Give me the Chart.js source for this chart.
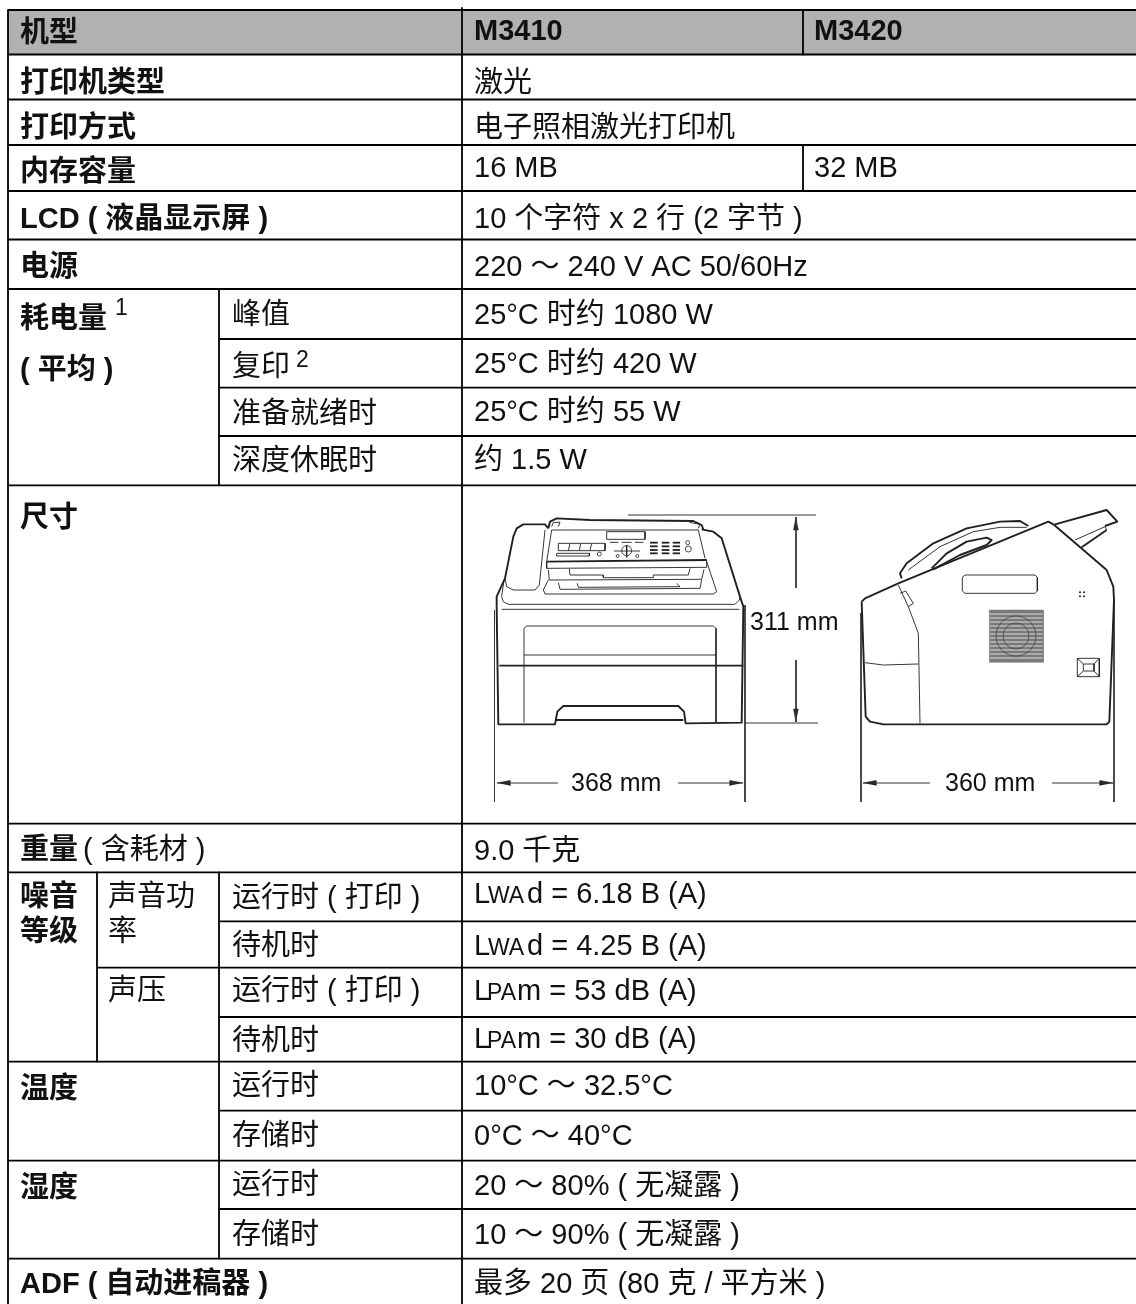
<!DOCTYPE html>
<html>
<head>
<meta charset="utf-8">
<style>
html, body { margin: 0; padding: 0; background: #fff; }
canvas { display: block; }
</style>
<script src="https://cdn.jsdelivr.net/npm/chart.js@4"></script>
</head>
<body>
<canvas id="specTable" width="1136" height="1304"></canvas>
<script>
// table text
var headerCells = ['机型', 'M3410', 'M3420'];
var featureLabels = ['打印机类型', '打印方式', '内存容量', 'LCD ( 液晶显示屏 )', '电源', '耗电量', '( 平均 )', '尺寸', '重量', '噪音', '等级', '温度', '湿度', 'ADF ( 自动进稿器 )'];
var subLabels = ['峰值', '复印', '准备就绪时', '深度休眠时', '( 含耗材 )', '声音功', '率', '声压', '运行时 ( 打印 )', '待机时', '运行时 ( 打印 )', '待机时', '运行时', '存储时', '运行时', '存储时'];
var specValues = ['激光', '电子照相激光打印机', '16 MB', '32 MB', '10 个字符 x 2 行 (2 字节 )', '220 ～ 240 V AC 50/60Hz', '25°C 时约 1080 W', '25°C 时约 420 W', '25°C 时约 55 W', '约 1.5 W', '9.0 千克', 'd = 6.18 B (A)', 'd = 4.25 B (A)', 'm = 53 dB (A)', 'm = 30 dB (A)', '10°C ～ 32.5°C', '0°C ～ 40°C', '20 ～ 80% ( 无凝露 )', '10 ～ 90% ( 无凝露 )', '最多 20 页 (80 克 / 平方米 )'];
var footnoteMarks = ['1', '2'];
var soundPrefixes = ['L', 'WA', 'L', 'WA', 'L', 'PA', 'L', 'PA'];
var dimensionLabels = ['311 mm', '368 mm', '360 mm'];

// where the text sits: [x, baseline]
var headerPos = [[20, 42], [474, 40], [814, 40]];
var featurePos = [[20, 92], [20, 137], [20, 181], [20, 228], [20, 276], [20, 328], [20, 379], [20, 527], [20, 859], [20, 906], [20, 941], [20, 1098], [20, 1197], [20, 1293]];
var subPos = [[232, 324], [232, 376], [232, 423], [232, 470], [83, 859], [108, 906], [108, 941], [108, 1000], [232, 907], [232, 955], [232, 1000], [232, 1050], [232, 1095], [232, 1145], [232, 1194], [232, 1244]];
var valuePos = [[474, 92], [474, 137], [474, 177], [814, 177], [474, 228], [474, 276], [474, 324], [474, 373], [474, 421], [474, 469], [474, 860], [527, 903], [527, 955], [517, 1000], [517, 1048], [474, 1095], [474, 1145], [474, 1195], [474, 1244], [474, 1293]];
var footnotePos = [[115, 315], [296, 367]];
var prefixPos = [[474, 903], [488, 903], [474, 955], [488, 955], [474, 1000], [487, 1000], [474, 1048], [487, 1048]];
var dimensionPos = [[750, 630], [571, 791], [945, 791]];

// table rules
var leftEdge = 8, noiseEdge = 97, subEdge = 219, valueEdge = 462, m3420Edge = 803, rightEdge = 1136, bottomEdge = 1304;
var fullRows = [10, 54.5, 99.5, 145, 191, 239.5, 289, 485.3, 823.7, 872.3, 1061.7, 1160.7, 1258.7];
var subRows = [339, 387.7, 436, 921.3, 1017, 1110.7, 1209];
var noiseRow = 967.7;

// printer line art, in 3x crop units
var frontThick = [
  [[50, 350], [55, 703], [225, 703], [232, 665], [250, 648], [595, 648], [612, 665], [617, 700], [785, 698], [790, 350], [780, 320], [725, 145], [700, 125], [665, 118]],
  [[50, 350], [50, 320], [75, 265], [100, 140], [110, 115], [130, 103], [195, 103], [205, 115]],
  [[205, 115], [210, 95], [230, 85], [330, 90], [640, 93], [665, 105], [670, 118]],
  [[225, 690], [610, 690]],
  [[58, 527], [790, 527]],
  [[200, 215], [680, 210]]
];
var frontThin = [
  [[75, 265], [80, 290], [100, 300], [165, 300], [178, 285], [195, 120]],
  [[72, 270], [65, 320], [70, 335], [85, 343], [765, 343], [778, 330], [780, 320]],
  [[65, 358], [778, 358]],
  [[215, 110], [220, 97], [240, 97], [235, 110]],
  [[628, 97], [660, 103], [655, 115]],
  [[215, 120], [655, 120], [675, 205]],
  [[215, 120], [200, 215], [200, 235], [680, 232], [680, 210]],
  [[380, 125], [495, 125], [495, 148], [380, 148], [380, 125]],
  [[235, 160], [375, 160], [375, 182], [235, 182], [235, 160]],
  [[270, 160], [265, 182]], [[302, 160], [298, 182]], [[335, 160], [330, 182]],
  [[230, 190], [328, 190], [328, 198], [230, 198], [230, 190]],
  [[390, 157], [415, 157]], [[425, 157], [455, 157]], [[465, 157], [490, 157]],
  [[402, 183], [480, 183]], [[440, 165], [440, 202]],
  [[205, 240], [208, 270], [665, 268], [672, 238]],
  [[268, 237], [270, 255], [370, 255], [370, 263], [520, 263], [520, 255], [625, 255], [630, 235]],
  [[205, 270], [190, 300], [195, 312], [700, 312], [710, 305], [680, 215]],
  [[235, 278], [240, 298], [660, 295], [665, 270]],
  [[292, 280], [295, 292], [600, 290], [590, 280]],
  [[132, 698], [132, 415], [140, 408], [700, 408], [708, 415], [708, 698]],
  [[132, 495], [708, 495]]
];
var keypadCols = [[510, 533], [545, 568], [578, 600]];
var keypadRows = [158, 169, 180, 190];
var frontCircles = [[358, 192, 2], [440, 182, 5], [413, 198, 1.5], [472, 198, 1.5], [623, 158, 2], [625, 177, 3]];

var sideThick = [
  [[305, 335], [315, 325], [415, 280], [865, 95], [880, 103], [1040, 240], [1060, 290], [1062, 330], [1048, 695], [1040, 703], [370, 703], [330, 695], [317, 680], [305, 335]],
  [[425, 265], [420, 250], [440, 220], [520, 160], [620, 115], [720, 95], [780, 93], [805, 108]],
  [[515, 235], [560, 190], [620, 155], [680, 143], [695, 150], [680, 165], [600, 195], [520, 238]],
  [[885, 103], [1040, 60], [1072, 95], [1035, 108]],
  [[1040, 120], [965, 172]]
];
var sideThin = [
  [[415, 285], [445, 350], [475, 430], [480, 700]],
  [[420, 310], [437, 303], [460, 340], [445, 350]],
  [[315, 518], [370, 525], [475, 522]],
  [[445, 240], [540, 170], [640, 125], [720, 112], [800, 112]],
  [[945, 150], [1035, 110], [1040, 120]],
  [[615, 255], [825, 255], [832, 262], [832, 303], [825, 310], [615, 310], [607, 303], [607, 262], [615, 255]],
  [[952, 505], [1018, 505], [1018, 560], [952, 560], [952, 505]],
  [[970, 522], [1002, 522], [1002, 543], [970, 543], [970, 522]],
  [[952, 505], [970, 522]], [[1018, 505], [1002, 522]], [[952, 560], [970, 543]], [[1018, 560], [1002, 543]]
];
var grilleBox = [[688, 360], [850, 360], [850, 517], [688, 517], [688, 360]];
var grilleStripes = [372, 384, 396, 408, 420, 432, 444, 456, 468, 480, 492, 504];
var grilleRings = [[768, 438, 20], [768, 438, 13]];
var sideDots = [[960, 307], [972, 307], [960, 319], [972, 319]];

// dimension lines, page units
var dimLines = [
  [[494.5, 610], [494.5, 802]], [[745, 605], [745, 802]],
  [[628, 515], [816, 515]], [[745, 723], [818, 723]],
  [[861, 613], [861, 802]], [[1114, 600], [1114, 802]],
  [[796, 517], [796, 588]], [[796, 660], [796, 722]],
  [[497, 783], [558, 783]], [[678, 783], [743, 783]],
  [[863, 783], [930, 783]], [[1052, 783], [1113, 783]]
];
var dimArrows = [
  [[497, 783], [510, 780.5], [510, 785.5]], [[743, 783], [730, 780.5], [730, 785.5]],
  [[863, 783], [876, 780.5], [876, 785.5]], [[1113, 783], [1100, 780.5], [1100, 785.5]],
  [[796, 517], [793.5, 530], [798.5, 530]], [[796, 722], [793.5, 709], [798.5, 709]]
];

var INK = '#231f20';
var fontStack = '"Liberation Sans", "Noto Sans CJK SC", sans-serif';

function toPoints(pts) {
  return pts.map(function(p) { return { x: p[0], y: p[1] }; });
}
function line(pts, width, color) {
  return { data: toPoints(pts), showLine: true, borderColor: color || INK, borderWidth: width, pointRadius: 0, fill: false, borderJoinStyle: 'round' };
}
function filled(pts, color) {
  return { data: toPoints(pts), showLine: true, borderColor: color, borderWidth: 0.5, backgroundColor: color, pointRadius: 0, fill: 'shape' };
}
function fromFront(p) { return [480 + p[0] / 3, 490 + p[1] / 3]; }
function fromSide(p) { return [760 + p[0] / 3, 490 + p[1] / 3]; }

var datasets = [];

//table rules on top of the grey header
fullRows.forEach(function(y) { datasets.push(line([[leftEdge, y], [rightEdge, y]], 1.8, '#000')); });
subRows.forEach(function(y) { datasets.push(line([[subEdge, y], [rightEdge, y]], 1.8, '#000')); });
datasets.push(line([[noiseEdge, noiseRow], [rightEdge, noiseRow]], 1.8, '#000'));
datasets.push(line([[leftEdge, 10], [leftEdge, bottomEdge]], 1.8, '#000'));
datasets.push(line([[valueEdge, 8], [valueEdge, bottomEdge]], 1.8, '#000'));
datasets.push(line([[m3420Edge, 10], [m3420Edge, 54.5]], 1.8, '#000'));
datasets.push(line([[m3420Edge, 145], [m3420Edge, 191]], 1.8, '#000'));
datasets.push(line([[subEdge, 289], [subEdge, 485.3]], 1.8, '#000'));
datasets.push(line([[subEdge, 872.3], [subEdge, 1258.7]], 1.8, '#000'));
datasets.push(line([[noiseEdge, 872.3], [noiseEdge, 1061.7]], 1.8, '#000'));
datasets.push(filled([[leftEdge, 10], [rightEdge, 10], [rightEdge, 54.5], [leftEdge, 54.5]], '#b1b1b1'));

//printers
frontThick.forEach(function(s) { datasets.push(line(s.map(fromFront), 1.9)); });
frontThin.forEach(function(s) { datasets.push(line(s.map(fromFront), 0.9)); });
keypadCols.forEach(function(c) {
  keypadRows.forEach(function(r) { datasets.push(line([[c[0], r], [c[1], r]].map(fromFront), 1.8)); });
});
datasets.push({
  data: toPoints(frontCircles.map(fromFront)), pointRadius: frontCircles.map(function(c) { return c[2]; }),
  pointBorderWidth: 0.8, pointBorderColor: INK, pointBackgroundColor: '#fff'
});
sideThick.forEach(function(s) { datasets.push(line(s.map(fromSide), 1.9)); });
sideThin.forEach(function(s) { datasets.push(line(s.map(fromSide), 0.9)); });
datasets.push({
  data: toPoints(grilleRings.map(fromSide)), pointRadius: grilleRings.map(function(c) { return c[2]; }),
  pointBorderWidth: 0.8, pointBorderColor: '#444', pointBackgroundColor: 'rgba(0,0,0,0)'
});
grilleStripes.forEach(function(y) { datasets.push(line([[690, y], [848, y]].map(fromSide), 1.1, '#dcdcdc')); });
datasets.push(filled(grilleBox.map(fromSide), '#7a7a7a'));
datasets.push({
  data: toPoints(sideDots.map(fromSide)), pointRadius: 1, pointBorderWidth: 0, pointBackgroundColor: INK
});

//dimensions
dimLines.forEach(function(s) { datasets.push(line(s, 1, '#333')); });
dimArrows.forEach(function(s) { datasets.push(filled(s, INK)); });

var tableText = {
  id: 'tableText',
  afterDraw: function(chart) {
    var c = chart.ctx, sx = chart.scales.x, sy = chart.scales.y;
    function put(text, pos, font) {
      c.font = font;
      c.fillText(text, sx.getPixelForValue(pos[0]), sy.getPixelForValue(pos[1]));
    }
    c.save();
    c.fillStyle = '#111';
    c.textAlign = 'left';
    c.textBaseline = 'alphabetic';
    var bold = 'bold 29px ' + fontStack, regular = '29px ' + fontStack, small = '23px ' + fontStack;
    headerCells.forEach(function(t, i) { put(t, headerPos[i], bold); });
    featureLabels.forEach(function(t, i) { put(t, featurePos[i], bold); });
    subLabels.forEach(function(t, i) { put(t, subPos[i], regular); });
    specValues.forEach(function(t, i) { put(t, valuePos[i], regular); });
    footnoteMarks.forEach(function(t, i) { put(t, footnotePos[i], small); });
    soundPrefixes.forEach(function(t, i) { put(t, prefixPos[i], i % 2 ? small : regular); });
    dimensionLabels.forEach(function(t, i) { put(t, dimensionPos[i], '25px ' + fontStack); });
    c.restore();
  }
};

new Chart(document.getElementById('specTable'), {
  type: 'scatter',
  data: { datasets: datasets },
  plugins: [tableText],
  options: {
    responsive: false,
    animation: false,
    layout: { padding: 0, autoPadding: false },
    plugins: { legend: { display: false }, tooltip: { enabled: false } },
    scales: {
      x: { type: 'linear', min: 0, max: 1136, display: false },
      y: { type: 'linear', min: 0, max: 1304, reverse: true, display: false }
    }
  }
});
</script>
</body>
</html>
